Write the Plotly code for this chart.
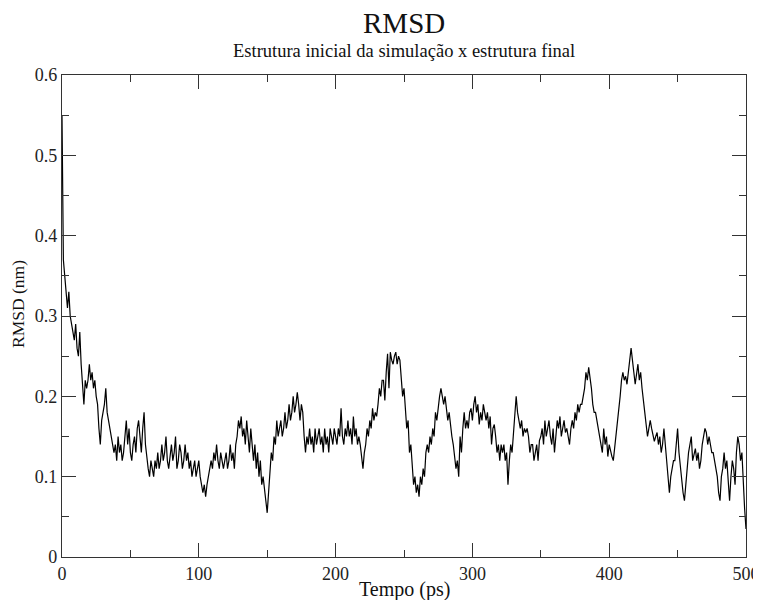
import plotly.graph_objects as go

# Time (ps), one frame per ps
time_ps = list(range(0, 501))

# RMSD (nm)
rmsd_nm = [
    0.55, 0.37, 0.35, 0.33, 0.31, 0.33, 0.30, 0.29, 0.28, 0.27,
    0.29, 0.26, 0.25, 0.28, 0.24, 0.21, 0.19, 0.22, 0.21, 0.22,
    0.24, 0.22, 0.23, 0.21, 0.22, 0.20, 0.19, 0.16, 0.14, 0.17,
    0.18, 0.19, 0.21, 0.18, 0.17, 0.16, 0.15, 0.14, 0.13, 0.14,
    0.12, 0.15, 0.13, 0.14, 0.12, 0.13, 0.15, 0.17, 0.14, 0.16,
    0.13, 0.12, 0.14, 0.15, 0.13, 0.16, 0.17, 0.15, 0.13, 0.16,
    0.18, 0.14, 0.12, 0.11, 0.10, 0.12, 0.11, 0.10, 0.12, 0.11,
    0.13, 0.11, 0.12, 0.14, 0.12, 0.13, 0.15, 0.12, 0.11, 0.13,
    0.14, 0.12, 0.13, 0.15, 0.11, 0.12, 0.14, 0.13, 0.11, 0.12,
    0.14, 0.12, 0.13, 0.11, 0.12, 0.10, 0.11, 0.12, 0.10, 0.11,
    0.12, 0.10, 0.09, 0.08, 0.09, 0.075, 0.09, 0.10, 0.11, 0.12,
    0.11, 0.13, 0.12, 0.14, 0.12, 0.11, 0.13, 0.12, 0.11, 0.12,
    0.13, 0.11, 0.12, 0.14, 0.12, 0.13, 0.11, 0.14, 0.15, 0.17,
    0.16, 0.175, 0.15, 0.16, 0.14, 0.17, 0.15, 0.13, 0.16, 0.14,
    0.12, 0.14, 0.11, 0.13, 0.10, 0.12, 0.09, 0.10, 0.08, 0.07,
    0.055, 0.08, 0.11, 0.13, 0.12, 0.15, 0.14, 0.17, 0.15, 0.16,
    0.17, 0.15, 0.16, 0.18, 0.16, 0.17, 0.19, 0.17, 0.18, 0.20,
    0.18, 0.19, 0.205, 0.19, 0.17, 0.19, 0.18, 0.15, 0.13, 0.15,
    0.14, 0.16, 0.14, 0.15, 0.13, 0.16, 0.14, 0.15, 0.16, 0.14,
    0.15, 0.13, 0.16, 0.14, 0.15, 0.13, 0.16, 0.15, 0.14, 0.16,
    0.15, 0.14, 0.16, 0.15, 0.185, 0.15, 0.14, 0.16, 0.15, 0.17,
    0.15, 0.16, 0.14, 0.175, 0.15, 0.16, 0.14, 0.15, 0.14, 0.12,
    0.11, 0.13, 0.14, 0.16, 0.15, 0.17, 0.16, 0.185, 0.17, 0.18,
    0.175, 0.19, 0.21, 0.20, 0.22, 0.22, 0.195, 0.23, 0.253, 0.21,
    0.255, 0.245, 0.24, 0.25, 0.255, 0.24, 0.25, 0.245, 0.22, 0.20,
    0.21, 0.19, 0.16, 0.17, 0.13, 0.14, 0.11, 0.09, 0.10, 0.08,
    0.09, 0.075, 0.10, 0.09, 0.11, 0.10, 0.13, 0.14, 0.13, 0.15,
    0.14, 0.16, 0.15, 0.18, 0.17, 0.19, 0.20, 0.21, 0.20, 0.19,
    0.20, 0.18, 0.17, 0.18, 0.16, 0.15, 0.14, 0.12, 0.11, 0.12,
    0.10, 0.15, 0.13, 0.16, 0.18, 0.16, 0.17, 0.16, 0.18, 0.185,
    0.17, 0.19, 0.20, 0.18, 0.19, 0.165, 0.18, 0.17, 0.19, 0.18,
    0.17, 0.18, 0.16, 0.175, 0.14, 0.16, 0.165, 0.15, 0.13, 0.14,
    0.12, 0.14, 0.13, 0.14, 0.12, 0.13, 0.09, 0.12, 0.14, 0.13,
    0.15, 0.17, 0.20, 0.18, 0.17, 0.16, 0.17, 0.15, 0.16, 0.155,
    0.16, 0.15, 0.13, 0.14, 0.14, 0.12, 0.13, 0.14, 0.12, 0.145,
    0.15, 0.16, 0.14, 0.17, 0.15, 0.16, 0.17, 0.15, 0.14, 0.16,
    0.13, 0.15, 0.17, 0.16, 0.175, 0.15, 0.16, 0.17, 0.155, 0.16,
    0.15, 0.14, 0.16, 0.17, 0.16, 0.18, 0.17, 0.19, 0.18, 0.19,
    0.19, 0.20, 0.21, 0.23, 0.22, 0.236, 0.225, 0.21, 0.19, 0.18,
    0.18, 0.17, 0.163, 0.15, 0.14, 0.13, 0.16, 0.14, 0.15, 0.125,
    0.14, 0.13, 0.125, 0.12, 0.135, 0.15, 0.17, 0.18, 0.20, 0.22,
    0.23, 0.22, 0.225, 0.215, 0.235, 0.245, 0.26, 0.24, 0.23, 0.215,
    0.23, 0.24, 0.22, 0.23, 0.21, 0.19, 0.18, 0.165, 0.15, 0.16,
    0.17, 0.16, 0.15, 0.144, 0.15, 0.155, 0.14, 0.15, 0.13, 0.14,
    0.16, 0.14, 0.12, 0.10, 0.08, 0.10, 0.11, 0.12, 0.12, 0.14,
    0.16, 0.13, 0.11, 0.095, 0.08, 0.07, 0.095, 0.11, 0.13, 0.14,
    0.15, 0.12, 0.13, 0.135, 0.12, 0.13, 0.11, 0.12, 0.14, 0.15,
    0.16, 0.155, 0.14, 0.15, 0.14, 0.13, 0.13, 0.12, 0.11, 0.10,
    0.08, 0.07, 0.10, 0.11, 0.13, 0.11, 0.12, 0.09, 0.07, 0.10,
    0.12, 0.11, 0.09, 0.13, 0.15, 0.14, 0.12, 0.13, 0.085, 0.06,
    0.035,
]

title_text = "RMSD"
subtitle_text = "Estrutura inicial da simulação x estrutura final"
x_title = "Tempo (ps)"
y_title = "RMSD (nm)"

serif = "Liberation Serif"

fig = go.Figure()
fig.add_trace(go.Scatter(
    x=time_ps, y=rmsd_nm, mode="lines",
    line=dict(color="black", width=1.2),
    showlegend=False,
))

axis_common = dict(
    automargin=False,
    showgrid=False, zeroline=False,
    showline=True, linecolor="#333333", linewidth=1.3,
    mirror="allticks", ticks="inside", ticklen=14, tickwidth=1.3,
    tickcolor="#333333",
    tickfont=dict(family=serif, size=18, color="#222222"),
)

fig.update_xaxes(
    range=[0, 500], dtick=100, tick0=0,
    minor=dict(dtick=50, ticks="inside", ticklen=7, tickwidth=1.3, tickcolor="#333333"),
    **axis_common,
)
fig.update_yaxes(
    range=[0, 0.6], dtick=0.1, tick0=0,
    minor=dict(dtick=0.05, ticks="inside", ticklen=7, tickwidth=1.3, tickcolor="#333333"),
    **axis_common,
)

# the page body adds an 8 px offset, so the figure is 8 px smaller on each axis
fig.update_layout(
    template="none",
    width=753, height=592,
    margin=dict(l=54, r=15, t=67, b=43),
    paper_bgcolor="white", plot_bgcolor="white",
    font=dict(family=serif, color="#111111"),
    annotations=[
        dict(text=title_text, xref="paper", yref="paper", x=0.5, y=1,
             yshift=52, xanchor="center", yanchor="middle", showarrow=False,
             font=dict(family=serif, size=29, color="#111111")),
        dict(text=subtitle_text, xref="paper", yref="paper", x=0.5, y=1,
             yshift=24, xanchor="center", yanchor="middle", showarrow=False,
             font=dict(family=serif, size=18.5, color="#111111")),
        dict(text=x_title, xref="paper", yref="paper", x=0.5, y=0,
             yshift=-32, xanchor="center", yanchor="middle", showarrow=False,
             font=dict(family=serif, size=20, color="#111111")),
        dict(text=y_title, xref="paper", yref="paper", x=0, y=0.5,
             xshift=-44, yshift=12, xanchor="center", yanchor="middle",
             textangle=-90, showarrow=False,
             font=dict(family=serif, size=17.5, color="#111111")),
    ],
)

fig.write_html("out.html")
